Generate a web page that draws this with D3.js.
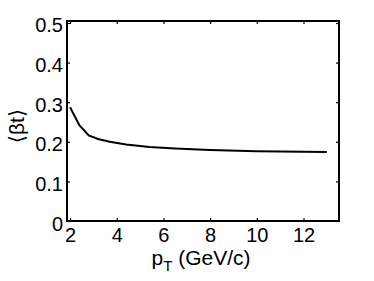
<!DOCTYPE html>
<html>
<head>
<meta charset="utf-8">
<script src="https://cdn.jsdelivr.net/npm/d3@7"></script>
<style>
  body { margin: 0; background: #fff; }
  svg text { font-family: "Liberation Sans", Arial, "DejaVu Sans", sans-serif; fill: #000; }
</style>
</head>
<body>
<div id="chart"></div>
<script>
// data
var pT   = [2, 2.4, 2.8, 3.2, 3.7, 4.4, 5.4, 6.5, 8, 10, 12, 13];
var beta = [0.287, 0.242, 0.216, 0.207, 0.200, 0.193, 0.187, 0.183, 0.179, 0.176, 0.175, 0.174];
var xTicks = [2, 4, 6, 8, 10, 12];
var yTicks = [0, 0.1, 0.2, 0.3, 0.4, 0.5];

var width = 374, height = 281;
var padding = {left: 67, right: 35, top: 21, bottom: 60};

var svg = d3.select("#chart")
            .append("svg")
              .attr("width", width)
              .attr("height", height);

var xScale = d3.scaleLinear()
               .domain([1.87, 13.52])
               .range([padding.left, width - padding.right]);

var yScale = d3.scaleLinear()
               .domain([0, 0.505])
               .range([height - padding.bottom, padding.top]);

var x0 = padding.left, x1 = width - padding.right;
var y0 = height - padding.bottom, y1 = padding.top;

// ticks, pointing inward on all four sides
var tickLen = 3;
function styleAxis(g) {
  g.select(".domain").remove();
  g.selectAll("line").attr("stroke", "#000").attr("stroke-width", 1.2);
}

svg.append("g")
   .attr("transform", "translate(0," + y0 + ")")
   .call(d3.axisBottom(xScale).tickValues(xTicks).tickSizeInner(-tickLen).tickSizeOuter(0).tickFormat(d3.format("d")))
   .call(styleAxis)
   .selectAll("text")
     .attr("y", 7)
     .attr("dy", "0.71em")
     .style("font-size", "20px");

svg.append("g")
   .attr("transform", "translate(0," + y1 + ")")
   .call(d3.axisTop(xScale).tickValues(xTicks).tickSizeInner(-tickLen).tickSizeOuter(0).tickFormat(""))
   .call(styleAxis);

svg.append("g")
   .attr("transform", "translate(" + x0 + ",0)")
   .call(d3.axisLeft(yScale).tickValues(yTicks).tickSizeInner(-tickLen).tickSizeOuter(0)
           .tickFormat(d => d === 0 ? "0" : d3.format(".1f")(d)))
   .call(styleAxis)
   .selectAll("text")
     .attr("x", -4)
     .attr("dy", "0.45em")
     .style("font-size", "20px");

svg.append("g")
   .attr("transform", "translate(" + x1 + ",0)")
   .call(d3.axisRight(yScale).tickValues(yTicks).tickSizeInner(-tickLen).tickSizeOuter(0).tickFormat(""))
   .call(styleAxis);

// frame
svg.append("rect")
   .attr("x", x0)
   .attr("y", y1)
   .attr("width", x1 - x0)
   .attr("height", y0 - y1)
   .attr("fill", "none")
   .attr("stroke", "#000")
   .attr("stroke-width", 2);

// curve
var line = d3.line()
             .x(d => xScale(d[0]))
             .y(d => yScale(d[1]));

svg.append("path")
   .datum(d3.zip(pT, beta))
   .attr("d", line)
   .attr("fill", "none")
   .attr("stroke", "#000")
   .attr("stroke-width", 2);

// axis labels
var xl = svg.append("text")
            .attr("x", 201)
            .attr("y", 265)
            .attr("text-anchor", "middle")
            .style("font-size", "21px");
xl.append("tspan").text("p");
xl.append("tspan").attr("dy", 6).style("font-size", "15px").text("T");
xl.append("tspan").attr("dy", -6).text(" (GeV/c)");

svg.append("text")
   .attr("transform", "translate(24,126) rotate(-90)")
   .attr("text-anchor", "middle")
   .style("font-size", "21px")
   .text("\u27E8\u03B2t\u27E9");
</script>
</body>
</html>
